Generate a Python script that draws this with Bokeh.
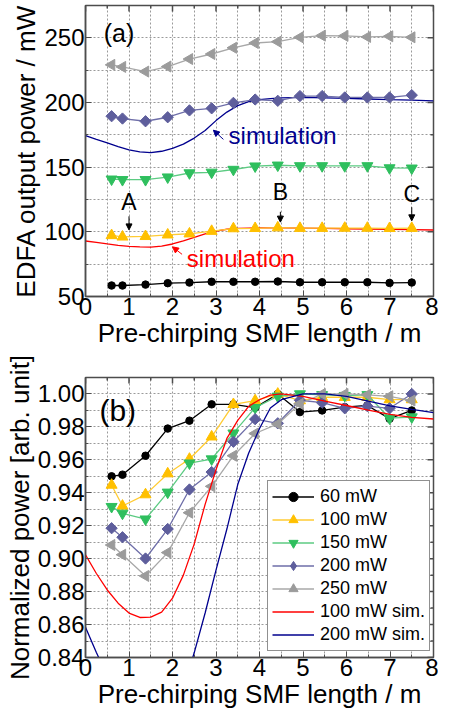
import numpy as np
from bokeh.plotting import figure
from bokeh.layouts import column
from bokeh.models import (FixedTicker, NumeralTickFormatter, Label, Legend, LegendItem,
                          Arrow, NormalHead, Range1d)
from bokeh.embed import file_html
from bokeh.resources import INLINE

FONT = "Liberation Sans"

# ---------------- data ----------------
length_m = [0.6, 0.85, 1.38, 1.89, 2.39, 2.9, 3.4, 3.9, 4.42, 4.93, 5.44, 5.96, 6.48, 6.99, 7.5]

# (a) EDFA output power / mW
out_60 = [58.5, 58.5, 59.2, 60.3, 60.8, 61.4, 61.4, 61.4, 61.6, 61.0, 61.0, 61.0, 61.0, 60.5, 60.8]
out_100 = [97.2, 96.1, 96.5, 97.7, 98.5, 100.5, 102.5, 102.7, 103.2, 102.8, 102.8, 102.9, 102.9, 102.7, 102.8]
out_150 = [140.7, 140.3, 140.3, 142.3, 145.5, 146.0, 148.2, 150.8, 151.5, 151.0, 151.0, 151.0, 151.0, 149.4, 149.2]
out_200 = [189.4, 187.6, 185.5, 188.6, 193.9, 195.5, 199.7, 202.3, 201.3, 205.0, 205.0, 203.9, 203.9, 203.9, 205.7]
out_250 = [229.1, 227.5, 223.9, 227.8, 233.6, 237.5, 242.3, 246.0, 247.0, 250.4, 251.7, 251.5, 250.7, 251.2, 250.4]

# (b) normalized power
norm_60 = [0.950, 0.951, 0.9625, 0.979, 0.9838, 0.9937, 0.9937, 0.9917, 1.000, 0.989, 0.990, 0.992, 0.993, 0.985, 0.990]
norm_100 = [0.9447, 0.932, 0.9389, 0.9516, 0.9605, 0.974, 0.9937, 0.996, 1.000, 0.996, 0.998, 0.998, 0.998, 0.9966, 0.9966]
norm_150 = [0.9316, 0.9275, 0.924, 0.9403, 0.958, 0.9605, 0.9762, 0.9917, 0.9986, 1.000, 0.9995, 0.999, 0.9995, 0.9853, 0.986]
norm_200 = [0.9185, 0.913, 0.9001, 0.918, 0.942, 0.9526, 0.971, 0.9847, 0.9822, 0.9962, 0.9947, 0.9913, 0.9926, 0.9913, 1.000]
norm_250 = [0.9083, 0.9024, 0.8895, 0.9037, 0.9279, 0.9439, 0.9625, 0.976, 0.9818, 0.994, 1.000, 1.000, 0.9995, 0.9986, 0.996]

# simulations
sim_x = [0, 0.25, 0.5, 0.75, 1.0, 1.25, 1.5, 1.75, 2.0, 2.25, 2.5, 2.75, 3.0, 3.25, 3.5,
         3.75, 4.0, 4.25, 4.5, 5.0, 5.5, 6.0, 6.5, 7.0, 7.5, 8.0]
sim_out_100 = [92.9, 91.9, 90.7, 89.6, 88.8, 88.3, 88.2, 88.9, 90.6, 93.0, 95.7, 98.4, 100.6,
               102.0, 102.7, 102.9, 103.0, 103.0, 103.0, 102.8, 102.6, 102.4, 102.2, 102.0, 101.7, 101.4]
sim_out_200 = [174.4, 171.5, 168.7, 165.8, 163.3, 161.8, 161.2, 162.3, 164.6, 167.8, 172.5, 178.3,
               186.0, 192.6, 197.6, 200.7, 202.2, 203.0, 203.5, 203.9, 203.6, 203.2, 202.7, 202.2, 201.8, 201.3]
sim_norm_100 = [0.9024, 0.891, 0.881, 0.873, 0.867, 0.8643, 0.8645, 0.8675, 0.876, 0.890, 0.909,
                0.933, 0.954, 0.973, 0.984, 0.9925, 0.9965, 0.9993, 1.000, 0.9985, 0.9957, 0.993,
                0.9902, 0.9876, 0.9858, 0.9848]
sim_norm_200 = [0.8584, 0.843, 0.829, 0.815, 0.803, 0.795, 0.792, 0.796, 0.805, 0.821, 0.843,
                0.867, 0.893, 0.918, 0.945, 0.964, 0.979, 0.9915, 0.9965, 1.000, 1.000, 0.9986,
                0.9957, 0.9928, 0.9907, 0.9887]

x_lim = (0, 8)
ya_lim = (50, 275)
yb_lim = (0.84, 1.01)
x_ticks = [0, 1, 2, 3, 4, 5, 6, 7, 8]
x_minor = [0.5, 1.5, 2.5, 3.5, 4.5, 5.5, 6.5, 7.5]
ya_ticks = [50, 100, 150, 200, 250]
ya_minor = [75, 125, 175, 225, 275]
yb_ticks = [0.84, 0.86, 0.88, 0.90, 0.92, 0.94, 0.96, 0.98, 1.00]
yb_minor = [0.85, 0.87, 0.89, 0.91, 0.93, 0.95, 0.97, 0.99, 1.01]

series_labels = ["60 mW", "100 mW", "150 mW", "200 mW", "250 mW"]
sim_labels = ["100 mW sim.", "200 mW sim."]

# ---------------- style ----------------
AX = "#4d4d4d"
GRID = "#9a9a9a"
styles = [
    dict(marker="circle", size=7.5, fill="#000000", line="#000000", angle=0.0, key="circle"),
    dict(marker="triangle", size=11, fill="#FFC000", line="#FFCB33", angle=0.0, key="triangle"),
    dict(marker="inverted_triangle", size=11, fill="#2FBF5E", line="#5CCB82", angle=0.0,
         key="inverted_triangle"),
    dict(marker="square", size=8, fill="#5E5E9C", line="#6E6EA8", angle=np.pi / 4, key="diamond"),
    dict(marker="triangle", size=11, fill="#9B9B9B", line="#A8A8A8", angle=np.pi / 2, key="triangle"),
]
RED = "#FF0000"
NAVY = "#00008E"


def make_fig(height, ylim, yt, ymin, ylabel, fmt, mb_top, mb_bottom):
    p = figure(width=438, height=height, x_range=Range1d(*x_lim), y_range=Range1d(*ylim),
               output_backend="svg", toolbar_location=None,
               min_border_left=85, min_border_right=5,
               min_border_top=mb_top, min_border_bottom=mb_bottom)
    p.background_fill_color = "white"
    p.border_fill_color = "white"
    p.outline_line_color = AX
    p.outline_line_width = 1.5
    xt = FixedTicker(ticks=x_ticks, minor_ticks=x_minor)
    ytk = FixedTicker(ticks=yt, minor_ticks=ymin)
    p.xaxis.ticker = xt
    p.yaxis.ticker = ytk
    p.xgrid.ticker = xt
    p.ygrid.ticker = ytk
    if fmt:
        p.yaxis.formatter = NumeralTickFormatter(format=fmt)
    for g in (p.xgrid, p.ygrid):
        g.grid_line_color = GRID
        g.grid_line_dash = "2 2"
        g.grid_line_width = 1
        g.minor_grid_line_color = GRID
        g.minor_grid_line_dash = "2 2"
        g.minor_grid_line_width = 1
    for ax in (p.xaxis[0], p.yaxis[0]):
        ax.axis_line_color = AX
        ax.axis_line_width = 1.5
        ax.major_tick_line_color = AX
        ax.minor_tick_line_color = AX
        ax.major_tick_in = 6
        ax.major_tick_out = 0
        ax.minor_tick_in = 3
        ax.minor_tick_out = 0
        ax.major_label_text_font = FONT
        ax.major_label_text_font_size = "24px"
        ax.major_label_text_color = "black"
        ax.major_label_standoff = 1
        ax.axis_label_text_font = FONT
        ax.axis_label_text_font_size = "26px"
        ax.axis_label_text_font_style = "normal"
        ax.axis_label_text_color = "black"
        ax.axis_label_standoff = 0
    p.xaxis.axis_label = "Pre-chirping SMF length / m"
    p.yaxis.axis_label = ylabel
    # mirrored inward ticks on the top and right edges of the frame
    p.ray(x=x_ticks, y=[ylim[1]] * len(x_ticks), length=6, length_units="screen",
          angle=-np.pi / 2, line_color=AX, line_width=1.5)
    p.ray(x=x_minor, y=[ylim[1]] * len(x_minor), length=3, length_units="screen",
          angle=-np.pi / 2, line_color=AX, line_width=1.5)
    p.ray(x=[x_lim[1]] * len(yt), y=yt, length=6, length_units="screen", angle=np.pi,
          line_color=AX, line_width=1.5)
    p.ray(x=[x_lim[1]] * len(ymin), y=ymin, length=3, length_units="screen", angle=np.pi,
          line_color=AX, line_width=1.5)
    return p


# ---------------- (a) ----------------
pa = make_fig(350, ya_lim, ya_ticks, ya_minor, "EDFA output power / mW", None, 5, 52)
pa.line(sim_x, sim_out_100, line_color=RED, line_width=1.3)
pa.line(sim_x, sim_out_200, line_color=NAVY, line_width=1.3)
for ys, st in zip([out_60, out_100, out_150, out_200, out_250], styles):
    pa.line(length_m, ys, line_color=st["line"], line_width=1.3)
    pa.scatter(length_m, ys, marker=st["marker"], size=st["size"], angle=st["angle"],
               fill_color=st["fill"], line_color=st["fill"])

pa.add_layout(Label(x=0.42, y=254, text="(a)", text_font=FONT, text_font_size="25px",
                    text_baseline="middle", text_align="left", text_color="black"))
for txt, lx, ly, ys, ye in (("A", 1.0, 123, 112, 101.5), ("B", 4.48, 131, 115.5, 107.5),
                            ("C", 7.5, 129, 119, 108.5)):
    pa.add_layout(Label(x=lx, y=ly, text=txt, text_font=FONT, text_font_size="23px",
                        text_baseline="middle", text_align="center", text_color="black"))
    pa.add_layout(Arrow(end=NormalHead(size=6, fill_color="black", line_color="black"),
                        x_start=lx, y_start=ys, x_end=lx, y_end=ye,
                        line_color="black", line_width=1))
pa.add_layout(Label(x=3.29, y=174.4, text="simulation", text_font=FONT, text_font_size="24px",
                    text_baseline="middle", text_align="left", text_color=NAVY))
pa.add_layout(Arrow(end=NormalHead(size=6, fill_color=NAVY, line_color=NAVY),
                    x_start=3.17, y_start=171.5, x_end=2.94, y_end=178.6,
                    line_color=NAVY, line_width=1))
pa.add_layout(Label(x=2.33, y=79.7, text="simulation", text_font=FONT, text_font_size="24px",
                    text_baseline="middle", text_align="left", text_color=RED))
pa.add_layout(Arrow(end=NormalHead(size=6, fill_color=RED, line_color=RED),
                    x_start=2.22, y_start=82.6, x_end=2.0, y_end=88.4,
                    line_color=RED, line_width=1))

# ---------------- (b) ----------------
pb = make_fig(361, yb_lim, yb_ticks, yb_minor, "Normalized power [arb. unit]",
              "0.00", 27, 50)
items = []
for ys, st, lab in zip([norm_60, norm_100, norm_150, norm_200, norm_250], styles, series_labels):
    ln = pb.line(length_m, ys, line_color=st["line"], line_width=1.3)
    pb.scatter(length_m, ys, marker=st["marker"], size=st["size"], angle=st["angle"],
               fill_color=st["fill"], line_color=st["fill"])
    # legend key marker (size 0 in the plot, the legend draws its own size)
    key = pb.scatter(x=length_m[:1], y=ys[:1], marker=st["key"], size=0,
                     fill_color=st["fill"], line_color=st["fill"])
    items.append(LegendItem(label=lab, renderers=[ln, key]))
s1 = pb.line(sim_x, sim_norm_100, line_color=RED, line_width=1.3)
s2 = pb.line(sim_x, sim_norm_200, line_color=NAVY, line_width=1.3)
items.append(LegendItem(label=sim_labels[0], renderers=[s1]))
items.append(LegendItem(label=sim_labels[1], renderers=[s2]))

pb.add_layout(Label(x=0.32, y=0.990, text="(b)", text_font=FONT, text_font_size="30px",
                    text_baseline="middle", text_align="left", text_color="black"))

lg = Legend(items=items, location=(182, 6))
lg.label_text_font = FONT
lg.label_text_font_size = "18px"
lg.label_text_color = "black"
lg.label_height = 23
lg.glyph_height = 23
lg.glyph_width = 42
lg.label_standoff = 6
lg.spacing = 0
lg.padding = 4
lg.margin = 0
lg.border_line_color = "#222222"
lg.border_line_width = 1.2
lg.background_fill_color = "white"
lg.background_fill_alpha = 1.0
pb.add_layout(lg)

layout = column(pa, pb, spacing=0)
html = file_html(layout, INLINE, title="EDFA output power")
open("out.html", "w").write(html)
